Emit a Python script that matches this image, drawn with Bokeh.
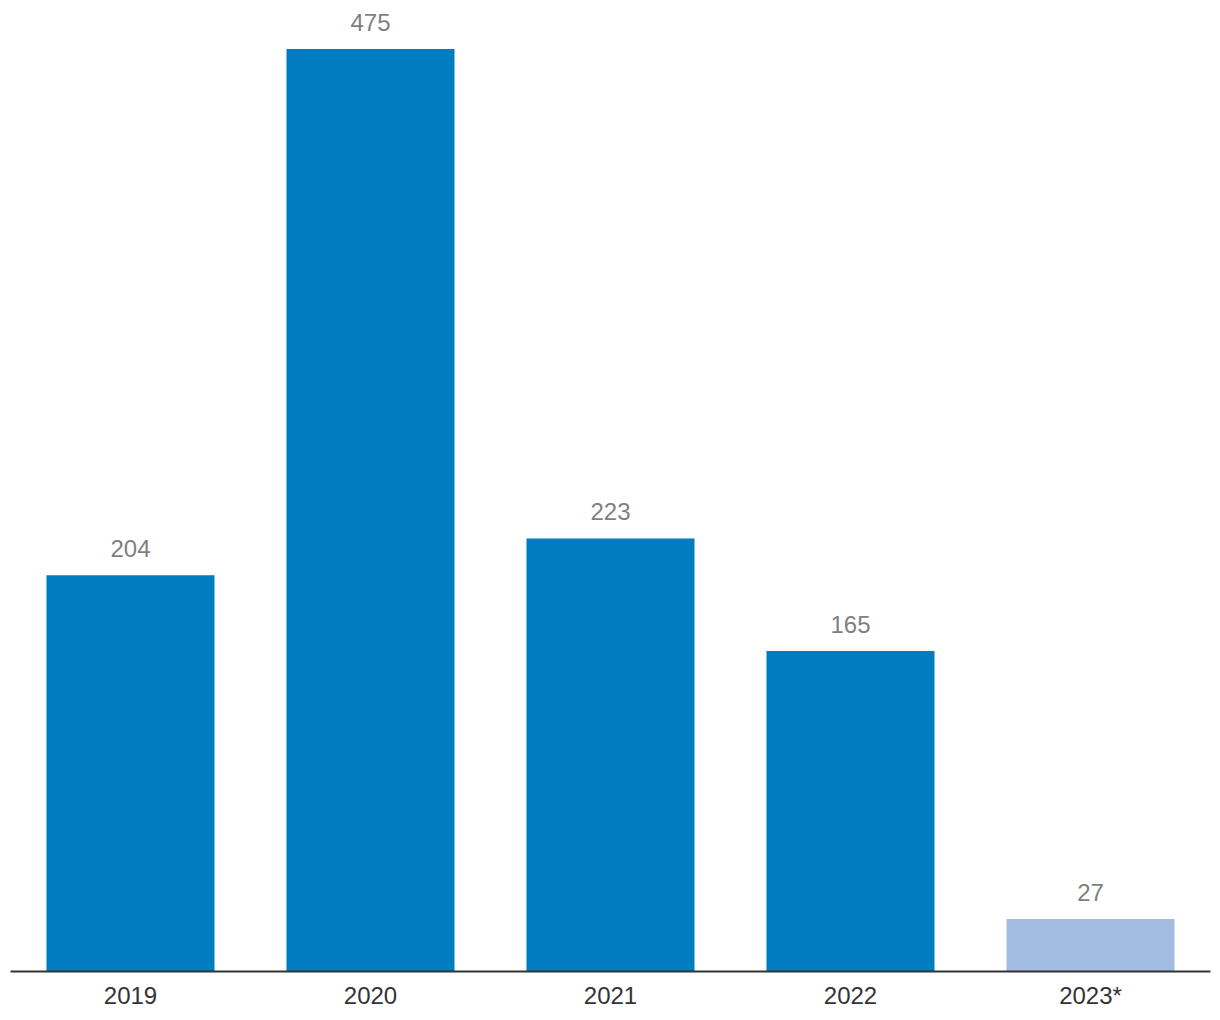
from bokeh.plotting import figure
from bokeh.models import ColumnDataSource, FactorRange, Range1d
from bokeh.embed import file_html
from bokeh.resources import INLINE
from bokeh.core.properties import value

years = ["2019", "2020", "2021", "2022", "2023*"]
counts = [204, 475, 223, 165, 27]
colors = ["#007cc0", "#007cc0", "#007cc0", "#007cc0", "#a3bde0"]
labels = [str(c) for c in counts]

src = ColumnDataSource(dict(x=years, top=counts, color=colors, label=labels))

p = figure(width=1220, height=1020, x_range=FactorRange(*years, range_padding=0),
           y_range=Range1d(0, 500), output_backend="svg", toolbar_location=None,
           min_border_left=10, min_border_right=10, min_border_top=0, min_border_bottom=49)

p.vbar(x="x", top="top", width=0.7, color="color", source=src, line_color=None)
p.text(x="x", y="top", text="label", source=src, text_align="center", text_baseline="bottom",
       y_offset=-18, text_color="#7f7f7f", text_font_size="24px", text_font=value("Liberation Sans"))

p.outline_line_color = None
p.xgrid.visible = False
p.ygrid.visible = False
p.yaxis.visible = False
p.xaxis.axis_line_width = 2
p.xaxis.axis_line_color = "#333333"
p.xaxis.major_tick_line_color = None
p.xaxis.minor_tick_line_color = None
p.xaxis.major_tick_out = 0
p.xaxis.major_tick_in = 0
p.xaxis.major_label_text_font_size = "24px"
p.xaxis.major_label_text_color = "#333333"
p.xaxis.major_label_text_font = "Liberation Sans"
p.xaxis.major_label_standoff = 10

open("out.html", "w").write(file_html(p, INLINE))
